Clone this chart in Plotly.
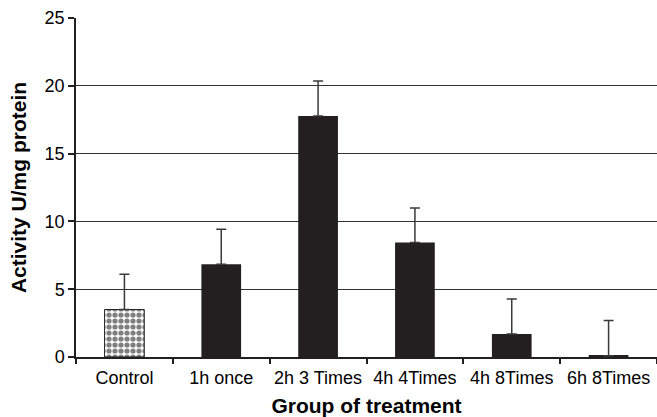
import plotly.graph_objects as go

categories = ["Control", "1h once", "2h 3 Times", "4h 4Times", "4h 8Times", "6h 8Times"]
activity = [3.5, 6.84, 17.77, 8.44, 1.70, 0.1]
error_plus = [2.6, 2.58, 2.58, 2.55, 2.58, 2.6]
y_ticks = [0, 5, 10, 15, 20, 25]

FONT = "Liberation Sans, Arial, sans-serif"
DARK = "#231f20"

fig = go.Figure()

# Control bar (checkered)
fig.add_trace(go.Bar(
    x=categories[:1], y=activity[:1],
    width=0.41,
    marker=dict(
        color="white",
        line=dict(color=DARK, width=1),
        pattern=dict(shape=".", size=6, solidity=0.6, fgcolor="black", bgcolor="white", fillmode="overlay"),
    ),
    error_y=dict(type="data", symmetric=False, array=error_plus[:1], arrayminus=[0],
                 color="#3a3a3a", thickness=1.5, width=5),
    showlegend=False,
))

# Treatment bars (solid)
fig.add_trace(go.Bar(
    x=categories[1:], y=activity[1:],
    width=0.41,
    marker=dict(color=DARK, line=dict(width=0)),
    error_y=dict(type="data", symmetric=False, array=error_plus[1:], arrayminus=[0] * 5,
                 color="#3a3a3a", thickness=1.5, width=5),
    showlegend=False,
))

fig.update_layout(
    width=657, height=417,
    margin=dict(l=76, r=0, t=18, b=60, autoexpand=False),
    paper_bgcolor="white", plot_bgcolor="white",
    font=dict(family=FONT, color="black", size=18),
    barmode="overlay",
    xaxis=dict(
        categoryorder="array", categoryarray=categories,
        showline=True, linecolor=DARK, linewidth=1.5,
        ticks="outside", tickson="boundaries", ticklen=5, tickcolor=DARK, tickwidth=1.5,
        tickfont=dict(size=18, family=FONT), ticklabelstandoff=4, tickangle=0,
        automargin=False,
        showgrid=False,
        title=dict(text="<b>Group of treatment</b>", font=dict(size=21, family=FONT), standoff=12),
    ),
    yaxis=dict(
        range=[0, 25], tickvals=y_ticks,
        showline=True, linecolor=DARK, linewidth=1.5,
        ticks="outside", ticklen=6, tickcolor=DARK, tickwidth=1.5,
        tickfont=dict(size=18, family=FONT),
        automargin=False,
        showgrid=True, gridcolor="#333333", gridwidth=1.2,
        zeroline=False,
        title=dict(text="<b>Activity U/mg protein</b>", font=dict(size=21, family=FONT), standoff=12),
    ),
)

fig.write_html("out.html", config={"displayModeBar": False},
               post_script="document.body.style.margin='0';")
